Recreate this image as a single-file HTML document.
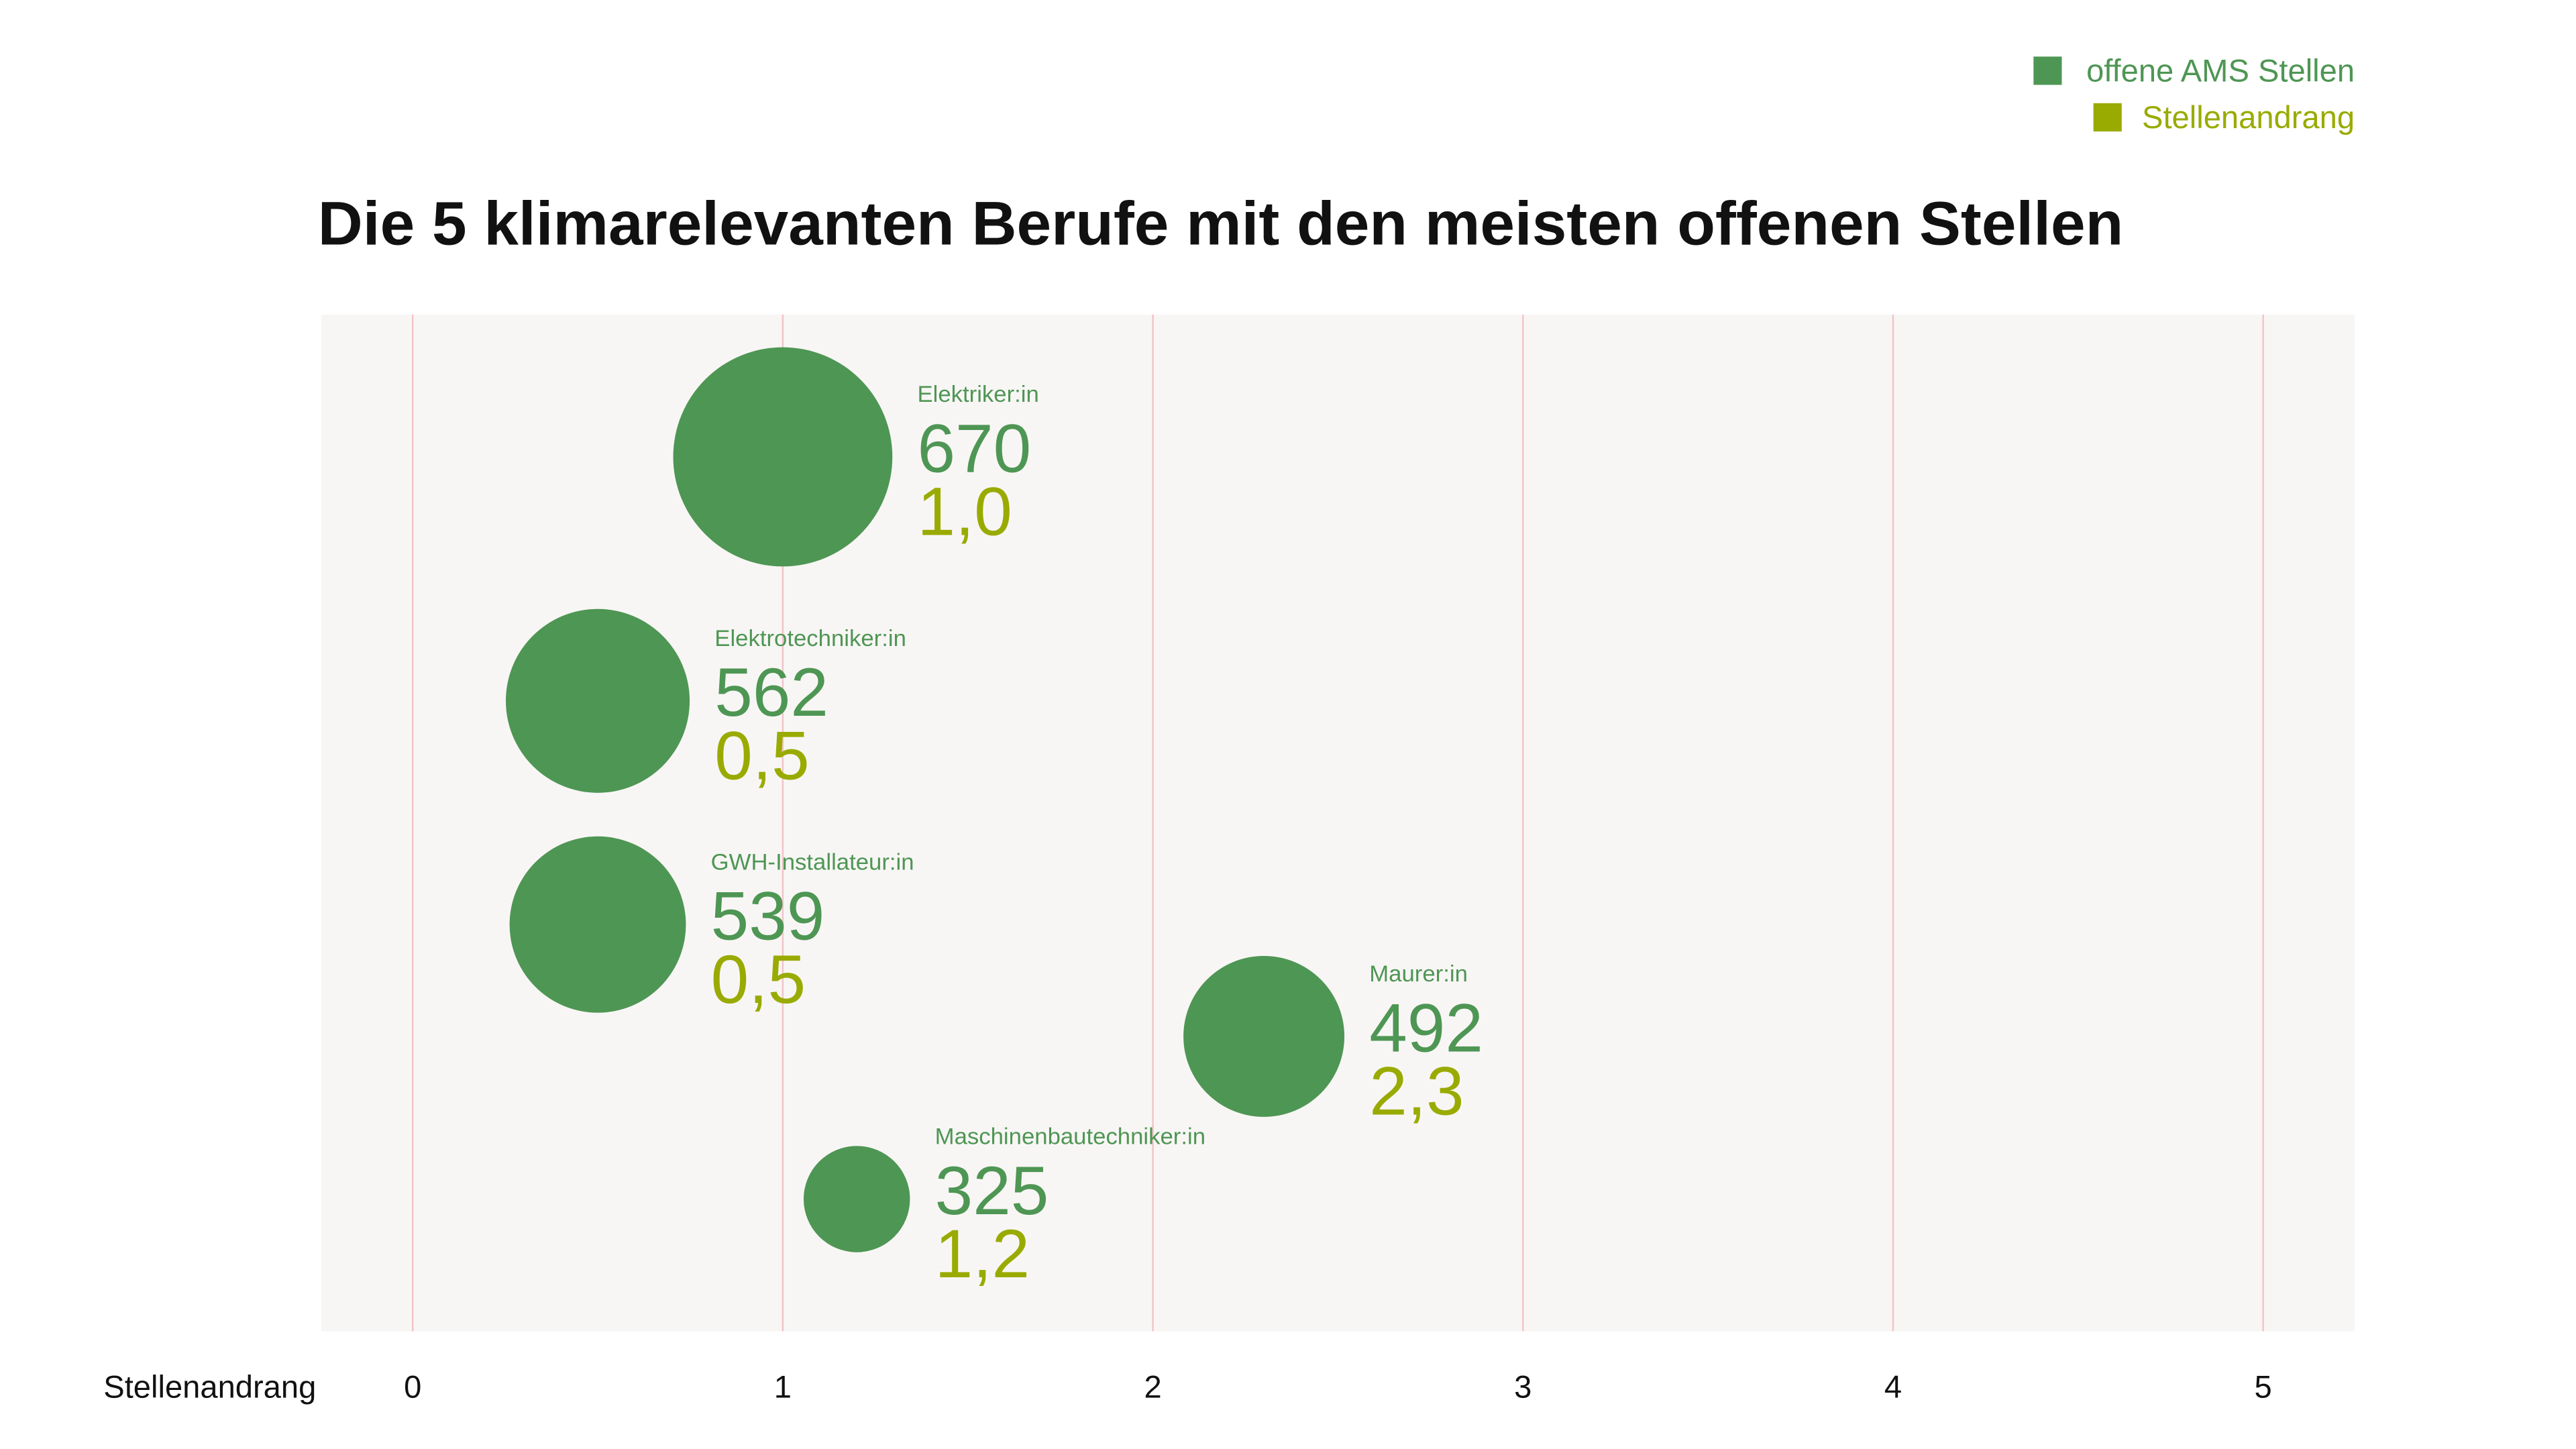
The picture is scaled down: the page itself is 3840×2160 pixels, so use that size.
<!DOCTYPE html>
<html><head><meta charset="utf-8"><style>
html,body{margin:0;padding:0;background:#fff;}
svg{display:block;font-family:"Liberation Sans",sans-serif;}
</style></head><body>
<svg id="chart" width="3840" height="2160" viewBox="0 0 1548 870.75" xmlns="http://www.w3.org/2000/svg">
  <g>
    <rect x="1222" y="34" width="17" height="17" fill="#4e9654"/>
    <text x="1415" y="49" text-anchor="end" font-size="19" fill="#4e9654">offene AMS Stellen</text>
    <rect x="1258" y="62" width="17" height="17" fill="#99ab00"/>
    <text x="1415" y="77" text-anchor="end" font-size="19" fill="#99ab00">Stellenandrang</text>
  </g>
  <text x="191" y="147" font-size="37" font-weight="bold" fill="#111" textLength="1085" lengthAdjust="spacingAndGlyphs">Die 5 klimarelevanten Berufe mit den meisten offenen Stellen</text>
  <rect x="193" y="189" width="1222" height="611" fill="#f8f6f5"/>
  <g id="grid"></g>
  <g id="ticks"></g>
  <text x="190" y="840" text-anchor="end" font-size="19" fill="#111">Stellenandrang</text>
  <g id="bubbles"></g>
</svg>
<script>
const categories = ["Elektriker:in","Elektrotechniker:in","GWH-Installateur:in","Maurer:in","Maschinenbautechniker:in"];
const openPositions = [670, 562, 539, 492, 325];
const ratio = [1.0, 0.5, 0.5, 2.3, 1.2];
const rowLevel = [0.14, 0.38, 0.60, 0.71, 0.87];
const tickValues = [0, 1, 2, 3, 4, 5];

const NS = "http://www.w3.org/2000/svg";
const x0 = 248, xUnit = 222.4;
const plotTop = 189, plotH = 611;
function xScale(v){ return x0 + v * xUnit; }
function yScale(f){ return plotTop + f * plotH; }
function rScale(v){ return v * 0.0983; }
function mk(tag, attrs, parent){
  const el = document.createElementNS(NS, tag);
  for (const k in attrs) el.setAttribute(k, attrs[k]);
  parent.appendChild(el);
  return el;
}
const grid = document.getElementById("grid");
const ticks = document.getElementById("ticks");
tickValues.forEach(t => {
  const l = mk("line", {x1: xScale(t), x2: xScale(t), y1: plotTop, y2: plotTop + plotH, stroke: "#f2c4c8", "stroke-width": 1}, grid);
  
  
  const tx = mk("text", {x: xScale(t), y: 840, "text-anchor": "middle", "font-size": 19, fill: "#111"}, ticks);
  tx.textContent = String(t);
  
  
});
const bubbles = document.getElementById("bubbles");
categories.forEach((c, i) => {
  const cx = xScale(ratio[i]), cy = yScale(rowLevel[i]), r = rScale(openPositions[i]);
  const g = mk("g", {}, bubbles);
  
  
  const circ = mk("circle", {cx: cx, cy: cy, r: r, fill: "#4e9654"}, g);
  
  
  const lx = cx + r + 15;
  const n = mk("text", {x: lx, y: cy - 33, "font-size": 14, fill: "#4e9654"}, g);
  n.textContent = c;
  
  
  const v = mk("text", {x: lx, y: cy + 9, "font-size": 41, fill: "#4e9654"}, g);
  v.textContent = String(openPositions[i]);
  
  
  const rt = mk("text", {x: lx, y: cy + 47, "font-size": 41, fill: "#99ab00"}, g);
  rt.textContent = ratio[i].toFixed(1).replace(".", ",");
  
  
});
</script>
</body></html>
